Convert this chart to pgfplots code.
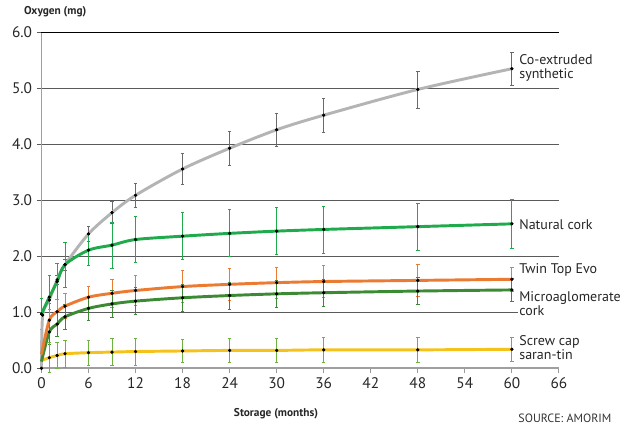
\documentclass[border=0pt]{standalone}
\usepackage{pgfplots}
\pgfplotsset{compat=1.18}
\usepackage{pgfplotstable}
\usepackage{fontspec}
\setmainfont{PT Sans}

\definecolor{coex}{HTML}{B4B4B4}
\definecolor{coexbar}{HTML}{6A6A6A}
\definecolor{natural}{HTML}{1FAA4B}
\definecolor{twintop}{HTML}{EB7B32}
\definecolor{micro}{HTML}{3D8A34}
\definecolor{screw}{HTML}{F5C21B}
\definecolor{screwbar}{HTML}{6DB33F}
\definecolor{gridc}{HTML}{5A5A5A}

% month, oxygen (mg), error
\pgfplotstableread{
x y e
0 0 0
0.15 0.95 0
1 1.22 0.06
2 1.58 0.08
3 1.85 0.10
6 2.40 0.13
9 2.78 0.20
12 3.09 0.22
18 3.56 0.27
24 3.93 0.30
30 4.26 0.30
36 4.52 0.30
48 4.98 0.33
60 5.35 0.30
}\coextruded

\pgfplotstableread{
x y e
0 0.97 0.27
1 1.27 0.39
2 1.55 0.32
3 1.85 0.40
6 2.11 0.28
9 2.20 0.41
12 2.30 0.41
18 2.36 0.42
24 2.41 0.42
30 2.45 0.42
36 2.48 0.42
48 2.53 0.42
60 2.58 0.43
}\naturalcork

\pgfplotstableread{
x y e
0 0.25 0
1 0.86 0.20
2 1.01 0.22
3 1.11 0.22
6 1.27 0.20
9 1.34 0.25
12 1.39 0.27
18 1.46 0.28
24 1.50 0.28
30 1.53 0.28
36 1.55 0.28
48 1.57 0.28
60 1.59 0.22
}\twintop

\pgfplotstableread{
x y e
0 0.12 0
1 0.65 0.22
2 0.79 0.22
3 0.92 0.22
6 1.07 0.22
9 1.15 0.24
12 1.20 0.24
18 1.26 0.24
24 1.30 0.24
30 1.33 0.24
36 1.35 0.24
48 1.38 0.24
60 1.40 0.20
}\microcork

\pgfplotstableread{
x y e
0 0.14 0
1 0.19 0.27
2 0.23 0.24
3 0.26 0.24
6 0.28 0.22
9 0.29 0.24
12 0.30 0.24
18 0.31 0.21
24 0.32 0.22
30 0.32 0.22
36 0.33 0.22
48 0.33 0.22
60 0.34 0.22
}\screwcap

\pgfplotsset{
  bars/.style={only marks, mark=*, mark size=0.8pt, mark options={black},
    error bars/y dir=both, error bars/y explicit,
    error bars/error bar style={line width=0.6pt, color=#1},
    error bars/error mark options={rotate=90, mark size=1.3pt, line width=0.6pt, color=#1}},
  curve/.style={no marks, smooth, tension=0.5, line width=2.2pt, color=#1},
  dots/.style={only marks, mark=*, mark size=1pt, mark options={black}},
}

\begin{document}
\begin{tikzpicture}
\path[use as bounding box] (-31.1pt,-47pt) rectangle (448.9pt,276.25pt);
\begin{axis}[
  at={(0,0)}, anchor=origin,
  scale only axis, width=388.1pt, height=252pt,
  xmin=0, xmax=66, ymin=0, ymax=6,
  axis x line*=bottom, axis y line*=left,
  axis line style={-},
  x axis line style={line width=1.4pt, color=gray!75},
  y axis line style={line width=1.2pt, color=gray!75},
  xtick={0,6,...,66}, ytick={0,1,...,6},
  tick align=outside,
  x tick style={line width=0.8pt, color=gray!80},
  y tick style={line width=0.8pt, color=gridc},
  major tick length=3.5pt,
  ymajorgrids,
  grid style={line width=0.8pt, color=gridc},
  /pgf/number format/assume math mode=true,
  yticklabel style={/pgf/number format/.cd, fixed, fixed zerofill, precision=1},
  ticklabel style={font=\fontsize{11.5}{12}\selectfont, color=black!85},
  clip=false,
]
\draw[line width=1.1pt, black] (axis cs:0,6) -- (axis cs:66,6);

% error bars
\addplot[bars=coexbar] table[x=x, y=y, y error=e] {\coextruded};
\addplot[bars=natural] table[x=x, y=y, y error=e] {\naturalcork};
\addplot[bars=twintop, skip coords between index={0}{1}] table[x=x, y=y, y error=e] {\twintop};
\addplot[bars=micro, skip coords between index={0}{1}] table[x=x, y=y, y error=e] {\microcork};
\addplot[bars=screwbar, skip coords between index={0}{1}] table[x=x, y=y, y error=e] {\screwcap};

% curves
\addplot[curve=coex] table[x=x, y=y] {\coextruded};
\addplot[curve=screw] table[x=x, y=y] {\screwcap};
\addplot[curve=micro] table[x=x, y=y] {\microcork};
\addplot[curve=twintop] table[x=x, y=y] {\twintop};
\addplot[curve=natural] table[x=x, y=y] {\naturalcork};

% measured points
\addplot[dots] table[x=x, y=y] {\coextruded};
\addplot[dots] table[x=x, y=y] {\naturalcork};
\addplot[dots, skip coords between index={0}{1}] table[x=x, y=y] {\twintop};
\addplot[dots, skip coords between index={0}{1}] table[x=x, y=y] {\microcork};
\addplot[dots, skip coords between index={0}{1}] table[x=x, y=y] {\screwcap};

\tikzset{lab/.style={anchor=west, align=left, fill=white, inner sep=1pt,
  font=\fontsize{10.5}{10.5}\selectfont, text=black!85}}
\node[lab] at (axis cs:60.75,5.37) {Co-extruded\\synthetic};
\node[lab] at (axis cs:60.75,2.56) {Natural cork};
\node[lab] at (axis cs:60.75,1.76) {Twin Top Evo};
\node[lab] at (axis cs:60.75,1.16) {Microaglomerate\\cork};
\node[lab] at (axis cs:60.75,0.37) {Screw cap\\saran-tin};
\end{axis}
\node[anchor=west, font=\bfseries\fontsize{8.5}{9}\selectfont, text=black!85] at (-16.5pt,267.2pt) {Oxygen (mg)};
\node[font=\bfseries\fontsize{8.5}{9}\selectfont, text=black!85] at (175.9pt,-34.3pt) {Storage (months)};
\node[font=\fontsize{9}{9}\selectfont, text=black!80] at (392.6pt,-37.3pt) {SOURCE: AMORIM};
\end{tikzpicture}
\end{document}
